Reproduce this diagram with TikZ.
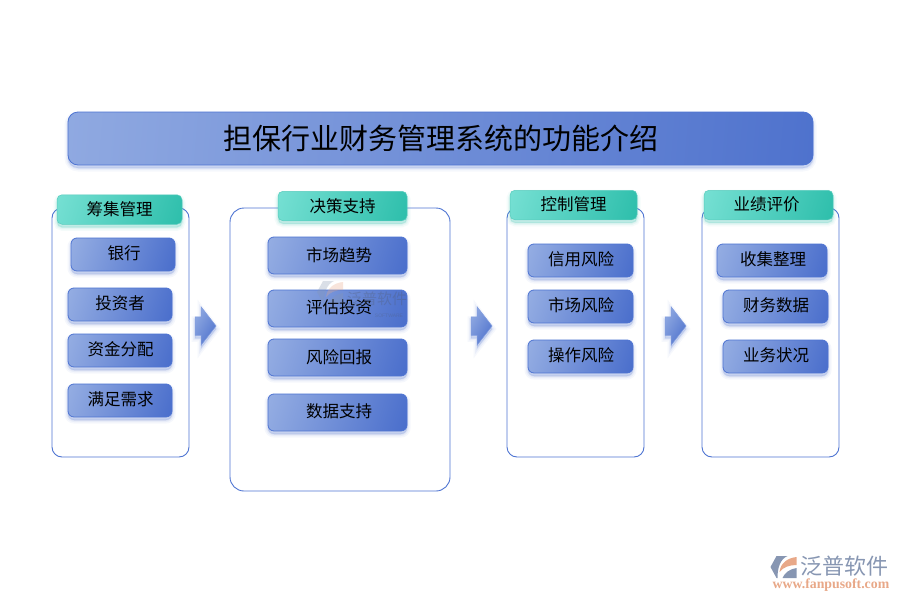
\documentclass[tikz,border=0pt]{standalone}
\usepackage{fontspec}
\setmainfont{Noto Sans CJK SC}
\newfontfamily\latinserif{Liberation Serif}
\newfontfamily\latinsans{Liberation Sans}
\usetikzlibrary{shadows,shapes.arrows}

\definecolor{boxlight}{HTML}{93ACE2}
\definecolor{boxdark}{HTML}{4B6FCC}
\definecolor{boxline}{HTML}{4E74D2}
\definecolor{headlight}{HTML}{74DFD2}
\definecolor{headdark}{HTML}{2FBFAC}
\definecolor{logogrey}{HTML}{8796B2}
\definecolor{logoorange}{HTML}{E8A888}

\pgfdeclareverticalshading{boxshade}{100bp}{color(0bp)=(boxdark); color(20bp)=(boxdark); color(80bp)=(boxlight); color(100bp)=(boxlight)}
\pgfdeclareverticalshading{headshade}{100bp}{color(0bp)=(headdark); color(20bp)=(headdark); color(80bp)=(headlight); color(100bp)=(headlight)}

\begin{document}
\begin{tikzpicture}
		[
			x=1pt, y=-1pt,
			softshadow/.style={
				general shadow={draw=#1, fill=#1, line width=7pt, opacity=.05, shadow yshift=-3pt},
				general shadow={draw=#1, fill=#1, line width=4pt, opacity=.07, shadow yshift=-3pt},
				general shadow={draw=#1, fill=#1, line width=1.5pt, opacity=.1, shadow yshift=-3pt},
			},
			titlebox/.style={rectangle, rounded corners=10pt, draw=boxline, line width=.8pt, softshadow=boxdark,
				shade, shading=boxshade, shading angle=85, inner sep=0pt, text=black},
			panel/.style={rectangle, rounded corners=#1, draw=boxline, line width=.9pt, fill=white, inner sep=0pt},
			headbox/.style={rectangle, rounded corners=5pt, draw=headdark!80!white, line width=.5pt, softshadow=headdark,
				shade, shading=headshade, shading angle=72, inner sep=0pt, text=black,
				font=\fontsize{16.5}{17}\selectfont},
			itembox/.style={rectangle, rounded corners=6pt, draw=boxline, line width=.8pt, softshadow=boxdark,
				shade, shading=boxshade, shading angle=72, inner sep=0pt, text=black},
			itemtext/.style={inner sep=0pt, text=black, font=\fontsize{16.5}{17}\selectfont},
			flowarrow/.style={single arrow, single arrow head extend=10pt, single arrow tip angle=104,
				minimum height=21pt, inner xsep=0pt, inner ysep=9pt, draw=boxline!70!white, line width=.5pt,
				softshadow=boxdark, shade, shading=boxshade, shading angle=60},
			logomark/.pic={
				\fill[logogrey] (0,11) -- (6,0) -- (17,0) .. controls (10,3) and (7,11) .. (7,22) -- (6,22) -- cycle;
				\fill[logoorange] (9,16) .. controls (10,7) and (17,2) .. (26,1) -- (26,9) .. controls (19,9) and (13,11) .. cycle;
				\fill[logogrey] (12,22) .. controls (14,17) and (19,13) .. (26,12) -- (26,22) -- cycle;
			},
		]

		\useasboundingbox (0,0) rectangle (900,600);

		% Title
		\node[titlebox, minimum width=745pt, minimum height=53pt] (title) at (440.5,138.5) {};
		\node[inner sep=0pt, font=\fontsize{29}{30}\selectfont] (titletext) at (441,138) {担保行业财务管理系统的功能介绍};

		% Panels
		\foreach \name/\x/\y/\w/\h/\r in
		{
			panelfund/120.5/332.5/137/249/10,
			paneldecide/340/349.5/220/283/14,
			panelcontrol/575.5/332.5/137/249/10,
			panelmerit/770.5/332.5/137/249/10
		}
			\node[panel=\r pt, minimum width=\w pt, minimum height=\h pt] (\name) at (\x,\y) {};

		% Headers
		\foreach \name/\x/\y/\w/\lift/\text in
		{
			headfund/119.5/209.5/125/0/筹集管理,
			headdecide/342.5/206/129/1/决策支持,
			headcontrol/573.5/205/127/2/控制管理,
			headmerit/768.5/205/129/2/业绩评价
		}
			\node[headbox, minimum width=\w pt, minimum height=29.5pt] (\name) at (\x,\y) {\raisebox{\lift pt}{\text}};

		% Items
		\foreach \name/\x/\y/\w/\h in
		{
			bank/123/254.5/104/33,
			investor/120/304.5/104/33,
			allot/120/350.5/104/33,
			demand/120/400.5/104/33,
			trend/337.5/255.5/139/37,
			assess/337.5/308.5/139/37,
			reward/337.5/357.5/139/37,
			datasup/337.5/412.5/139/37,
			credit/580.5/260.5/105/33,
			market/580.5/306.5/105/33,
			operate/580.5/356.5/105/33,
			collect/772/260.5/110/33,
			finance/775.5/306.5/105/33,
			status/775.5/356.5/105/33
		}
			\node[itembox, minimum width=\w pt, minimum height=\h pt] (\name) at (\x,\y) {};

		% Item texts
		\foreach \name/\x/\y/\text in
		{
			bank/124/253/银行,
			investor/120/303/投资者,
			allot/120.5/349/资金分配,
			demand/120.5/399/满足需求,
			trend/339/255/市场趋势,
			assess/339/307/评估投资,
			reward/339/357/风险回报,
			datasup/339/411/数据支持,
			credit/581/259/信用风险,
			market/581/305/市场风险,
			operate/581/355/操作风险,
			collect/773/259/收集整理,
			finance/776/305/财务数据,
			status/776/355/业务状况
		}
			\node[itemtext] (\name text) at (\x,\y) {\text};

		% Arrows
		\foreach \name/\x in
		{
			fundarrow/202,
			decidearrow/478,
			controlarrow/672
		}
			\node[flowarrow] (\name) at (\x,326) {};

		% Watermark
		\pic[opacity=.3] at (317,281) {logomark};
		\node[inner sep=0pt, opacity=.3, text=logogrey!60!black, font=\fontsize{15}{15}\selectfont] (marktext) at (377,299) {泛普软件};
		\node[inner sep=0pt, opacity=.3, text=logogrey!60!black, font=\latinsans\fontsize{5}{5}\selectfont] (markword) at (389,316) {SOFTWARE};

		% Logo
		\pic at (770.5,556) {logomark};
		\node[inner sep=0pt, text=logogrey, font=\fontsize{22}{22}\selectfont] (logotext) at (844,566) {泛普软件};
		\node[inner sep=0pt, text=logoorange, font=\latinserif\bfseries\fontsize{13.8}{14}\selectfont] (logoweb) at (831,585.5) {www.fanpusoft.com};

		\end{tikzpicture}
\end{document}
